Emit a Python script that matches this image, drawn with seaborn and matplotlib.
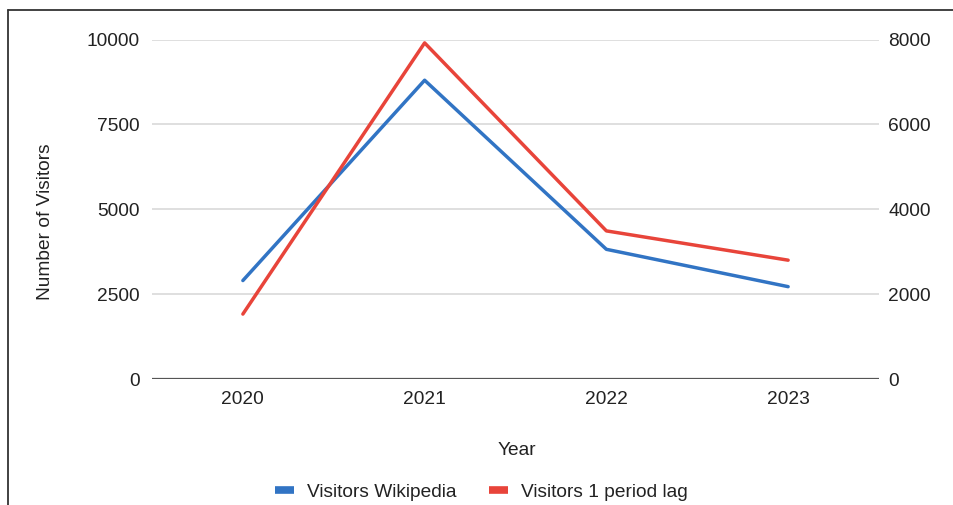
import matplotlib
matplotlib.use("Agg")
import matplotlib.pyplot as plt
from matplotlib.lines import Line2D
import seaborn as sns
import pandas as pd

years = ["2020", "2021", "2022", "2023"]
visitors_wikipedia = [2900, 8800, 3820, 2720]
visitors_lag = [1530, 7920, 3490, 2800]
left_ticks = [0, 2500, 5000, 7500, 10000]
right_ticks = [0, 2000, 4000, 6000, 8000]

blue = "#3174c4"
red = "#e8443a"
grid_color = "#d9d9d9"
text_color = "#222222"

sns.set_theme(style="white")
plt.rcParams["font.family"] = ["Liberation Sans", "DejaVu Sans"]

df = pd.DataFrame({
    "pos": range(len(years)),
    "Year": years,
    "Visitors Wikipedia": visitors_wikipedia,
    "Visitors 1 period lag": visitors_lag,
})

W, H = 954, 505
fig = plt.figure(figsize=(W / 100, H / 100), dpi=100)
left, right, top, bottom = 152, 879, 39.5, 379
ax = fig.add_axes([left / W, 1 - bottom / H, (right - left) / W, (bottom - top) / H])
ax2 = ax.twinx()

sns.lineplot(data=df, x="pos", y="Visitors Wikipedia", ax=ax, color=blue,
             linewidth=2.5, legend=False, zorder=3)
sns.lineplot(data=df, x="pos", y="Visitors 1 period lag", ax=ax2, color=red,
             linewidth=2.5, legend=False, zorder=3)

ax.set_xlim(-0.5, len(years) - 0.5)
ax.set_xticks(range(len(years)))
ax.set_xticklabels(years)
ax.set_ylim(0, 10000)
ax.set_yticks(left_ticks)
ax2.set_ylim(0, 8000)
ax2.set_yticks(right_ticks)

fs = 13.8
ax.tick_params(axis="x", length=0, pad=8.5, labelsize=fs, labelcolor=text_color)
ax.tick_params(axis="y", length=0, pad=8.6, labelsize=fs, labelcolor=text_color)
ax2.tick_params(axis="y", length=0, pad=6.5, labelsize=fs, labelcolor=text_color)

ax.grid(axis="y", color=grid_color, linewidth=1.2)
ax.grid(axis="x", visible=False)
ax2.grid(False)
ax.set_axisbelow(True)
for a in (ax, ax2):
    for s in a.spines.values():
        s.set_visible(False)
ax.axhline(0, color="#555555", linewidth=1.6, zorder=2)

ax.set_xlabel("Year", fontsize=fs, color=text_color)
ax.xaxis.set_label_coords(0.502, -0.185)
ax.set_ylabel("Number of Visitors", fontsize=fs, color=text_color)
ax.yaxis.set_label_coords((54 - left) / (right - left), 0.5 - (222 - (top + bottom) / 2) / (bottom - top))
ax2.set_ylabel("")

handles = [Line2D([], [], color=blue, linewidth=5.5, solid_capstyle="butt"),
           Line2D([], [], color=red, linewidth=5.5, solid_capstyle="butt")]
fig.legend(handles, ["Visitors Wikipedia", "Visitors 1 period lag"],
           loc="center", bbox_to_anchor=(481.5 / W, 1 - 492 / H), ncol=2,
           frameon=False, fontsize=fs, handlelength=1.0, handletextpad=0.68,
           columnspacing=1.67, labelcolor=text_color, borderpad=0, borderaxespad=0)

# outer frame (left and top edges)
fig.add_artist(Line2D([8.5 / W, 8.5 / W], [0, 1 - 10 / H], color="#333333", linewidth=1.3))
fig.add_artist(Line2D([8 / W, 1], [1 - 10 / H, 1 - 10 / H], color="#333333", linewidth=1.3))

fig.savefig("out.png", dpi=100)
